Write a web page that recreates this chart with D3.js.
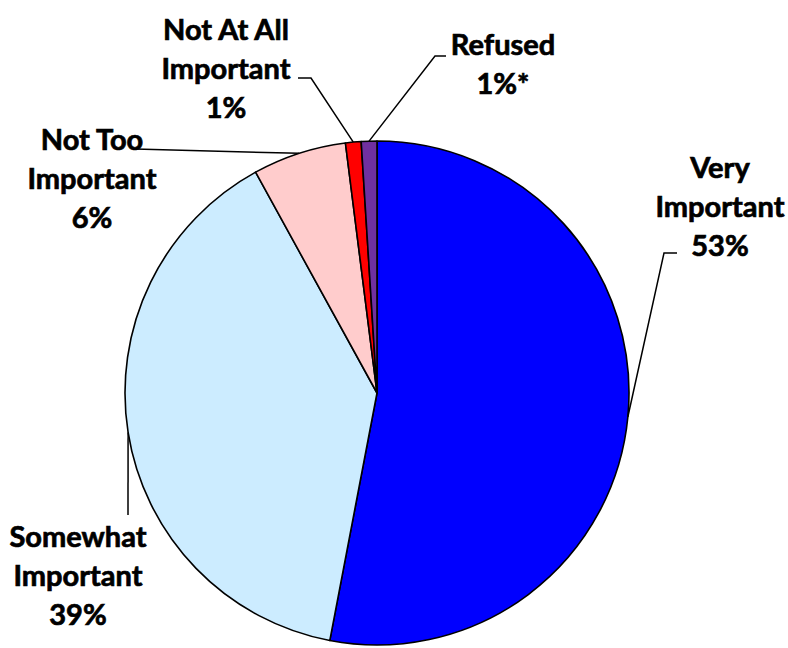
<!DOCTYPE html>
<html>
<head>
<meta charset="utf-8">
<script src="https://cdn.jsdelivr.net/npm/d3@7"></script>
<style>
  body { margin: 0; background: #fff; }
  text { font-family: Lato, "Open Sans", sans-serif; font-weight: 700; fill: #000; stroke: #000; stroke-width: 0.7px; }
</style>
</head>
<body>
<svg id="chart" width="788" height="648"></svg>
<script>
// data
var categories = ["Very Important", "Somewhat Important", "Not Too Important", "Not At All Important", "Refused"];
var values = [53, 39, 6, 1, 1];
var labelText = [["Very", "Important", "53%"], ["Somewhat", "Important", "39%"], ["Not Too", "Important", "6%"], ["Not At All", "Important", "1%"], ["Refused", "1%*"]];
var sliceColors = ["#0000ff", "#ccecff", "#ffcccc", "#ff0000", "#7030a0"];

// label layout (x centre, first baseline) and leader elbow
var labelPos = [
  {x: 720, y: 178, elbow: [[677, 253], [664, 253]]},
  {x: 78, y: 547, elbow: [[128, 515]]},
  {x: 92, y: 150, elbow: [[135, 149]]},
  {x: 226, y: 40, elbow: [[298, 78], [311, 78]]},
  {x: 503, y: 55, elbow: [[446, 56], [435, 56]]}
];

var cx = 377, cy = 393, r = 252;
var lineH = 39;

var svg = d3.select("#chart");
var g = svg.append("g").attr("transform", "translate(" + cx + "," + cy + ")");

var pie = d3.pie().sort(null).value(function(d) { return d; });
var arcs = pie(values);
var arc = d3.arc().innerRadius(0).outerRadius(r);

g.selectAll("path.slice")
  .data(arcs)
  .enter()
  .append("path")
  .attr("class", "slice")
  .attr("d", arc)
  .attr("fill", function(d, i) { return sliceColors[i]; })
  .attr("stroke", "#000")
  .attr("stroke-width", 1.6)
  .attr("stroke-linejoin", "round");

// leader lines to the arc midpoint
var line = d3.line();
arcs.forEach(function(d, i) {
  var a = (d.startAngle + d.endAngle) / 2;
  var px = cx + r * Math.sin(a), py = cy - r * Math.cos(a);
  var pts = labelPos[i].elbow.concat([[px, py]]);
  svg.append("path")
    .attr("d", line(pts))
    .attr("fill", "none")
    .attr("stroke", "#000")
    .attr("stroke-width", 1.5);
});

// labels
categories.forEach(function(c, i) {
  var t = svg.append("text")
    .attr("text-anchor", "middle")
    .attr("font-size", 29);
  labelText[i].forEach(function(s, j) {
    t.append("tspan")
      .attr("x", labelPos[i].x)
      .attr("y", labelPos[i].y + j * lineH)
      .text(s);
  });
});
</script>
</body>
</html>
